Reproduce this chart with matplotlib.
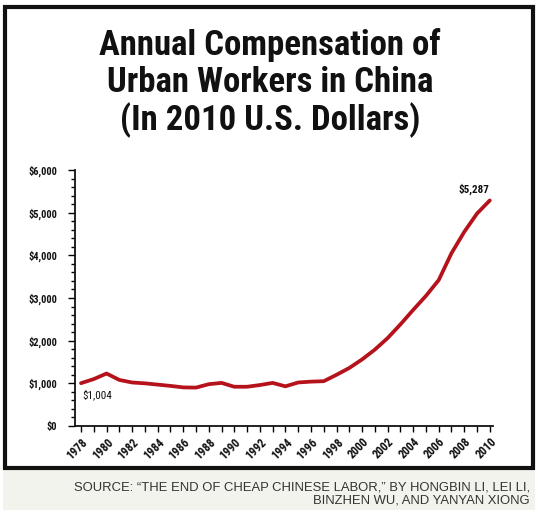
import matplotlib
matplotlib.use("Agg")
import matplotlib.pyplot as plt
from matplotlib.patches import Rectangle
from matplotlib.ticker import MultipleLocator, FuncFormatter

years = list(range(1978, 2011))
values = [1004, 1100, 1230, 1080, 1020, 1000, 970, 940, 905, 900, 980, 1010,
          920, 920, 960, 1010, 930, 1020, 1040, 1050, 1200, 1360, 1560, 1790,
          2060, 2380, 2720, 3050, 3420, 4050, 4550, 4980, 5287]
x_labels = [str(y) for y in range(1978, 2011, 2)]
title = "Annual Compensation of\nUrban Workers in China\n(In 2010 U.S. Dollars)"
source = "SOURCE: \u201cTHE END OF CHEAP CHINESE LABOR,\u201d BY HONGBIN LI, LEI LI,\nBINZHEN WU, AND YANYAN XIONG"

W, H = 540, 514
fig = plt.figure(figsize=(W / 100, H / 100), dpi=100)
fig.patch.set_facecolor("white")

cond = ["Roboto Condensed", "DejaVu Sans"]
plain = ["Liberation Sans", "DejaVu Sans"]

# footer band and frame
fig.patches.append(Rectangle((3 / W, 1 - 510 / H), 532 / W, 40 / H,
                             transform=fig.transFigure, facecolor="#f3f3ee",
                             edgecolor="none", zorder=0))
fig.patches.append(Rectangle((5 / W, 1 - 468 / H), 528 / W, 461 / H,
                             transform=fig.transFigure, facecolor="none",
                             edgecolor="#111111", linewidth=3, zorder=5))

fig.text(0.5, 1 - 83 / H, title, ha="center", va="center", family=cond,
         fontweight="bold", fontsize=25, linespacing=1.15, color="#111111")

fig.text(530 / W, 1 - 494 / H, source, ha="right", va="center", family=plain,
         fontsize=9.4, color="#333333", linespacing=1.15)

ax = fig.add_axes([75 / W, 1 - 426 / H, (493 - 75) / W, (426 - 170) / H])
ax.plot(years, values, color="#b5121b", linewidth=2.7, solid_capstyle="round",
        solid_joinstyle="round")
ax.set_xlim(1977.53, 2010.25)
ax.set_ylim(0, 6000)
for s in ["top", "right"]:
    ax.spines[s].set_visible(False)
for s in ["left", "bottom"]:
    ax.spines[s].set_linewidth(1.3)
    ax.spines[s].set_color("#111111")

ax.yaxis.set_major_locator(MultipleLocator(1000))
ax.yaxis.set_minor_locator(MultipleLocator(200))
ax.yaxis.set_major_formatter(FuncFormatter(lambda v, p: f"${int(v):,}"))
ax.set_xticks(range(1978, 2011, 2))
ax.set_xticklabels(x_labels, rotation=45, ha="right", va="top",
                   rotation_mode="anchor")
ax.xaxis.set_minor_locator(MultipleLocator(1))
ax.tick_params(axis="y", which="major", length=5, width=1, pad=8, labelsize=7.5)
ax.tick_params(axis="y", which="minor", length=3, width=1)
ax.tick_params(axis="x", which="both", length=4, width=1, pad=3, labelsize=8.5)
for lab in ax.get_xticklabels() + ax.get_yticklabels():
    lab.set_family(cond)
    lab.set_fontweight("bold")
    lab.set_color("#111111")

ax.annotate(f"${values[0]:,}", (years[0], values[0]), xytext=(1, -8),
            textcoords="offset points", ha="left", va="center", family=cond,
            fontsize=8, color="#111111")
ax.annotate(f"${values[-1]:,}", (years[-1], values[-1]), xytext=(0, 8),
            textcoords="offset points", ha="right", va="center", family=cond,
            fontsize=8, fontweight="bold", color="#111111")

fig.savefig("out.png", dpi=100)
